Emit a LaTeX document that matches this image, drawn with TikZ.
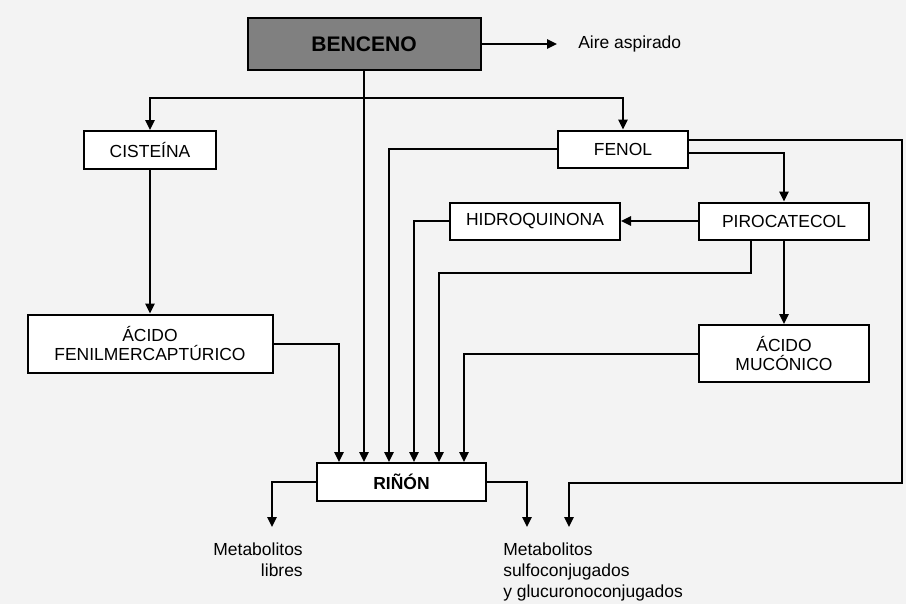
\documentclass[tikz,border=0pt]{standalone}
\usepackage{fontspec}
\setmainfont{Liberation Sans}
\usepackage{tikz}
\usetikzlibrary{arrows.meta, calc}

\begin{document}
\begin{tikzpicture}[x=0.75pt,y=0.75pt,yscale=-1,xscale=1,
  box/.style={draw, line width=1.5pt, fill=white, inner sep=0pt, align=center, font=\fontsize{13.1}{14.3}\selectfont},
  lbl/.style={inner sep=0pt, font=\fontsize{13.1}{15.75}\selectfont},
  flow/.style={line width=1.5pt, -{Triangle[length=7.5pt,width=7pt]}}]
%set diagram to the full sheet: 906 x 604
\useasboundingbox (0,0) rectangle (906,604);
\fill [fill={rgb, 255:red, 243; green, 243; blue, 243}] (0,0) rectangle (906,604);

%Shape: Rectangle [benceno]
\draw (364,44) node [box, fill={rgb, 255:red, 128; green, 128; blue, 128}, minimum width=174.75pt, minimum height=39pt, font=\fontsize{15.8}{18}\selectfont\bfseries] (benceno) {BENCENO};
%Shape: Rectangle [cisteina]
\draw (150,150) node [box, minimum width=99pt, minimum height=28.5pt] (cisteina) {CISTEÍNA};
%Shape: Rectangle [fenil]
\draw (150,343.5) node [box, minimum width=183.75pt, minimum height=43.5pt] (fenil) {ÁCIDO\\FENILMERCAPTÚRICO};
%Shape: Rectangle [fenol]
\draw (623,149) node [box, minimum width=97.5pt, minimum height=27.75pt] (fenol) {FENOL};
%Shape: Rectangle [pirocatecol]
\draw (784,221) node [box, minimum width=127.5pt, minimum height=27.75pt] (pirocatecol) {PIROCATECOL};
%Shape: Rectangle [hidroquinona]
\draw (535,221) node [box, minimum width=127.5pt, minimum height=27.75pt] (hidroquinona) {HIDROQUINONA};
%Shape: Rectangle [muconico]
\draw (784,353.5) node [box, minimum width=127.5pt, minimum height=42.75pt] (muconico) {ÁCIDO\\MUCÓNICO};
%Shape: Rectangle [rinon]
\draw (401.5,482) node [box, minimum width=126.75pt, minimum height=28.5pt, font=\fontsize{13.1}{14.3}\selectfont\bfseries] (rinon) {RIÑÓN};

% Text Node
\draw (578,44) node [lbl, anchor=west] (aire) {Aire aspirado};
% Text Node
\draw (303,543) node [lbl, anchor=north east, align=right] (libres) {Metabolitos\\libres};
% Text Node
\draw (503,543) node [lbl, anchor=north west, align=left] (conjugados) {Metabolitos\\sulfoconjugados\\y glucuronoconjugados};

\coordinate (split) at ($(benceno.south)+(0,27)$);
\coordinate (libresin) at (272,527);
\coordinate (conjin) at (527,527);
\coordinate (fenolin) at (569,527);

%Straight Lines [benceno]
\draw [flow] (benceno.east) -- ($(aire.west)+(-21,0)$);
\draw [flow] (benceno.south) -- (benceno.south |- rinon.north);
\draw [flow] (split) -| (cisteina.north);
\draw [flow] (split) -| (fenol.north);
%Straight Lines [cisteina]
\draw [flow] (cisteina.south) -- (fenil.north);
\draw [flow] (fenil.east) -| ($(rinon.north)+(-62.5,0)$);
%Straight Lines [fenol]
\draw [flow] (fenol.west) -| ($(rinon.north)+(-12.5,0)$);
\draw [flow] ($(fenol.east)+(0,-9)$) -| (902,483) -| (fenolin);
\draw [flow] ($(fenol.east)+(0,4)$) -| (pirocatecol.north);
%Straight Lines [pirocatecol]
\draw [flow] (pirocatecol.west) -- (hidroquinona.east);
\draw [flow] (hidroquinona.west) -| ($(rinon.north)+(12.5,0)$);
\draw [flow] ($(pirocatecol.south)+(-33,0)$) -- ++(0,32) -| ($(rinon.north)+(37.5,0)$);
\draw [flow] (pirocatecol.south) -- (muconico.north);
\draw [flow] (muconico.west) -| ($(rinon.north)+(62.5,0)$);
%Straight Lines [rinon]
\draw [flow] (rinon.west) -| (libresin);
\draw [flow] (rinon.east) -| (conjin);

\end{tikzpicture}
\end{document}
